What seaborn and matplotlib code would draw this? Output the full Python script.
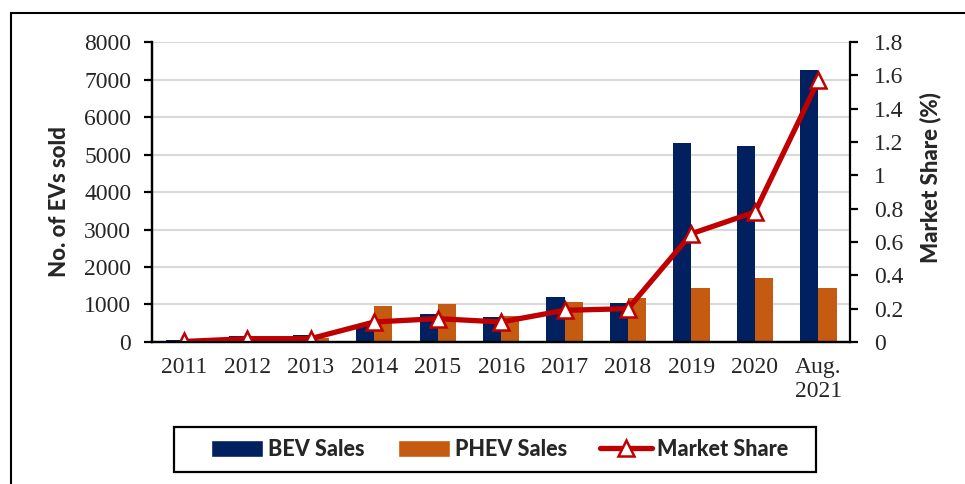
import numpy as np
import pandas as pd
import seaborn as sns
import matplotlib.pyplot as plt
from matplotlib.patches import Patch, Rectangle
from matplotlib.lines import Line2D

years = ['2011', '2012', '2013', '2014', '2015', '2016', '2017', '2018', '2019', '2020', 'Aug.\n2021']
bev_sales = [50, 170, 190, 450, 750, 660, 1210, 1050, 5300, 5230, 7250]
phev_sales = [5, 20, 100, 960, 1010, 690, 1075, 1165, 1430, 1700, 1450]
market_share = [0.003, 0.02, 0.02, 0.12, 0.14, 0.12, 0.19, 0.20, 0.65, 0.78, 1.57]

bev_color = '#002060'
phev_color = '#C55A11'
line_color = '#C00000'

sales = pd.DataFrame({
    'year': years * 2,
    'sales': bev_sales + phev_sales,
    'type': ['BEV Sales'] * len(years) + ['PHEV Sales'] * len(years),
})
share = pd.DataFrame({'pos': np.arange(len(years)), 'share': market_share})

sns.set_style('white')
plt.rcParams['font.family'] = ['Liberation Serif', 'DejaVu Serif']

fig = plt.figure(figsize=(9.65, 4.84), dpi=100)
ax = fig.add_axes([0.1575, 0.2934, 0.7235, 0.6198])

sns.barplot(data=sales, x='year', y='sales', hue='type', order=years,
            palette=[bev_color, phev_color], width=0.57, gap=0,
            saturation=1, ax=ax, legend=False, linewidth=0)
ax.set_ylim(0, 8000)
ax.set_xlim(-0.5, len(years) - 0.5)
ax.set_yticks(np.arange(0, 8001, 1000))
ax.yaxis.grid(True, color='#D9D9D9', lw=1.5)
ax.set_axisbelow(True)

ax2 = ax.twinx()
sns.lineplot(data=share, x='pos', y='share', ax=ax2, color=line_color, lw=3.8,
             marker='^', markersize=12, markerfacecolor='white',
             markeredgecolor=line_color, markeredgewidth=1.8)
ax2.set_ylim(0, 1.8)
ax2.set_yticks(np.arange(0, 1.81, 0.2))
ax2.set_yticklabels(['0'] + [f'{v:g}' for v in np.round(np.arange(0.2, 1.81, 0.2), 1)])
ax2.set_xlim(-0.5, len(years) - 0.5)

for a in (ax, ax2):
    a.spines['top'].set_visible(False)
    for s in ('left', 'right', 'bottom'):
        a.spines[s].set_color('black')
        a.spines[s].set_linewidth(1.6)
ax.spines['right'].set_visible(False)

ax.set_xticks(np.arange(len(years)))
ax.set_xticklabels(years, fontsize=17, va='top')
ax.set_xticks(np.arange(-0.5, len(years)), minor=True)
ax.tick_params(axis='x', which='major', length=0, pad=11)
ax.tick_params(axis='x', which='minor', length=6, width=1.6, direction='out', color='black')
ax.tick_params(axis='y', length=6, width=1.6, direction='out', color='black',
               labelsize=17, left=True, pad=9)
ax2.tick_params(axis='y', length=6, width=1.6, direction='out', color='black',
                labelsize=17, right=True, pad=11)

ax.set_xlabel('')
ax2.set_xlabel('')
ax.set_ylabel('No. of EVs sold', fontsize=16, fontweight='black', family='Lato')
ax2.set_ylabel('Market Share (%)', fontsize=16, fontweight='black', family='Lato', rotation=90)
ax.yaxis.set_label_coords(-0.118, 0.468)
ax2.yaxis.set_label_coords(1.100, 0.547)

handles = [
    Patch(facecolor=bev_color, label='BEV Sales'),
    Patch(facecolor=phev_color, label='PHEV Sales'),
    Line2D([], [], color=line_color, lw=3.8, marker='^', markersize=11,
           markerfacecolor='white', markeredgecolor=line_color, markeredgewidth=1.8,
           label='Market Share'),
]
fig.legend(handles=handles, loc='center', bbox_to_anchor=(0.518, 0.0713), ncol=3,
           frameon=False, handlelength=2.4, handleheight=0.8, columnspacing=1.55,
           handletextpad=0.25, prop={'family': 'Lato', 'weight': 'black', 'size': 15.5})
fig.patches.append(Rectangle((0.1803, 0.0248), 0.6653, 0.093, transform=fig.transFigure,
                             fill=False, edgecolor='black', lw=1.6))

fig.patches.append(Rectangle((0.0114, -0.05), 1.1, 1.023, transform=fig.transFigure,
                             fill=False, edgecolor='black', lw=1.5))

fig.savefig('out.png', dpi=100)
